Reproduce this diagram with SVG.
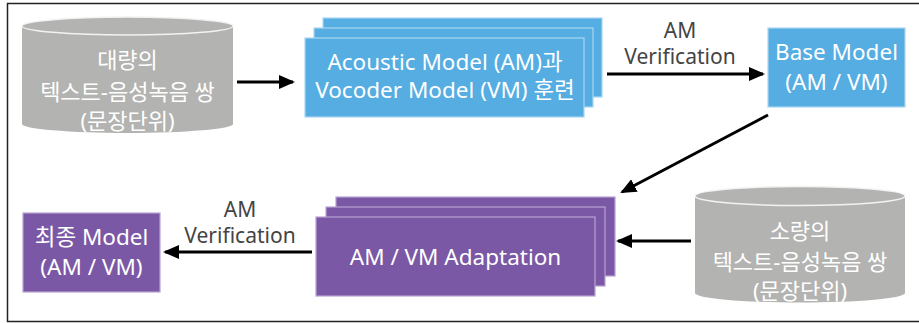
<svg xmlns="http://www.w3.org/2000/svg" width="919" height="323" viewBox="0 0 919 323">
<defs>
<style>
.t{font-family:"Noto Sans","Noto Sans CJK KR",sans-serif;font-size:22.5px;text-anchor:middle}
.k{font-size:22px}
.w{fill:#ffffff}
.lbl{fill:#444444;font-size:21px}
.blue{fill:#55ade1;stroke:#a9d6f2;stroke-width:1.2}
.purple{fill:#7b58a5;stroke:#b7a2d2;stroke-width:1.2}
.cyl{fill:#b3b3b1}
.cap{fill:#b3b3b1;stroke:#f2f2f2;stroke-width:1.5}
.con{stroke:#000;stroke-width:3;fill:none}
</style>
<marker id="ah" markerUnits="userSpaceOnUse" markerWidth="16" markerHeight="14" refX="14" refY="7" orient="auto">
<path d="M0,0 L16,7 L0,14 Z" fill="#000"/>
</marker>
</defs>
<rect x="7.5" y="3.5" width="930" height="318" fill="#fff" stroke="#222" stroke-width="1.5"/>

<g id="data-large">
<path class="cyl" d="M22,26 L22,124 A105.5,9 0 0 0 233,124 L233,26 Z"/>
<ellipse class="cap" cx="127.5" cy="26" rx="105.5" ry="9"/>
<text class="t k w" x="127.5" y="68">대량의</text>
<text class="t k w" x="127.5" y="100">텍스트-음성녹음 쌍</text>
<text class="t k w" x="127.5" y="129">(문장단위)</text>
</g>

<g id="train">
<rect class="blue" x="323" y="18" width="279" height="79"/>
<rect class="blue" x="314" y="28" width="279" height="79"/>
<rect class="blue" x="305" y="38" width="279" height="79"/>
<text class="t w" x="445" y="70">Acoustic Model (AM)과</text>
<text class="t w" x="445" y="98">Vocoder Model (VM) 훈련</text>
</g>

<g id="base">
<rect class="blue" x="768" y="28" width="137" height="79"/>
<text class="t w" x="836.5" y="60">Base Model</text>
<text class="t w" x="836.5" y="90">(AM / VM)</text>
</g>

<g id="adapt">
<rect class="purple" x="336" y="197" width="279" height="79"/>
<rect class="purple" x="326" y="207" width="279" height="79"/>
<rect class="purple" x="316" y="217" width="279" height="79"/>
<text class="t w" x="455.5" y="265">AM / VM Adaptation</text>
</g>

<g id="data-small">
<path class="cyl" d="M695,196 L695,293 A105,9.5 0 0 0 905,293 L905,196 Z"/>
<ellipse class="cap" cx="800" cy="196" rx="105" ry="9.5"/>
<text class="t k w" x="800" y="239">소량의</text>
<text class="t k w" x="800" y="270">텍스트-음성녹음 쌍</text>
<text class="t k w" x="800" y="299">(문장단위)</text>
</g>

<g id="final">
<rect class="purple" x="23" y="213" width="137" height="79"/>
<text class="t w" x="91.5" y="245">최종 Model</text>
<text class="t w" x="91.5" y="275">(AM / VM)</text>
</g>

<g id="connectors">
<line class="con" x1="237" y1="82" x2="293" y2="82" marker-end="url(#ah)"/>
<line class="con" x1="607" y1="74" x2="763" y2="74" marker-end="url(#ah)"/>
<line class="con" x1="768" y1="115" x2="622" y2="192" marker-end="url(#ah)"/>
<line class="con" x1="691" y1="241" x2="618" y2="241" marker-end="url(#ah)"/>
<line class="con" x1="312" y1="252" x2="165" y2="252" marker-end="url(#ah)"/>
<text class="t lbl" x="680" y="38">AM</text>
<text class="t lbl" x="680" y="64">Verification</text>
<text class="t lbl" x="240" y="217">AM</text>
<text class="t lbl" x="240" y="243">Verification</text>
</g>
</svg>
